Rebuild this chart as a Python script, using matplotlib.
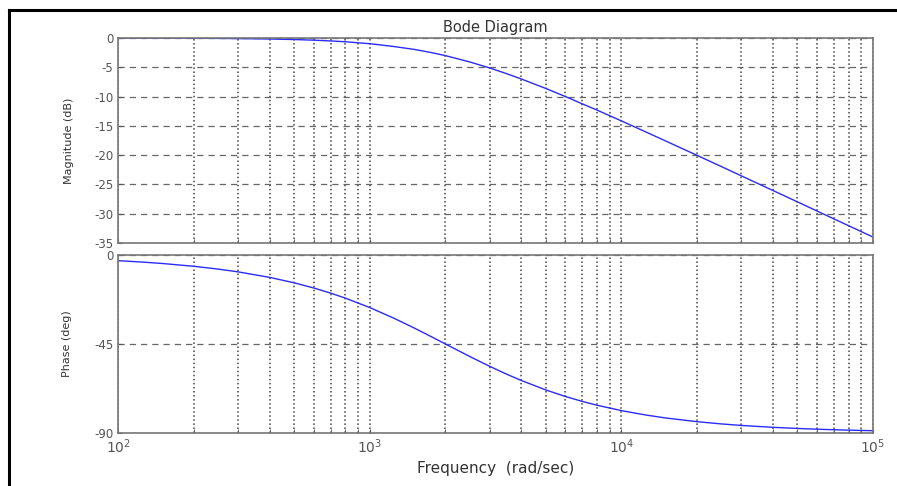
import numpy as np
import matplotlib.pyplot as plt
from matplotlib.lines import Line2D

# values
freq = [100, 125, 150, 200, 250, 300, 400, 500, 600, 700, 800, 1000, 1250,
        1500, 1750, 2000, 2500, 3000, 3500, 4000, 5000, 6000, 7000, 8000,
        10000, 12500, 15000, 20000, 25000, 30000, 40000, 50000, 60000, 70000,
        80000, 100000]
mag_db = [-0.01, -0.02, -0.02, -0.04, -0.07, -0.1, -0.17, -0.26, -0.37, -0.5,
          -0.64, -0.97, -1.46, -1.94, -2.47, -3.01, -4.09, -5.12, -6.09, -6.99,
          -8.6, -10.0, -11.25, -12.3, -14.15, -16.03, -17.58, -20.04, -21.96,
          -23.54, -26.03, -27.96, -29.55, -30.89, -32.05, -33.98]
phase_deg = [-2.86, -3.58, -4.29, -5.71, -7.13, -8.53, -11.31, -14.04, -16.7,
             -19.29, -21.8, -26.57, -32.01, -36.87, -41.19, -45.0, -51.34,
             -56.31, -60.26, -63.43, -68.2, -71.57, -74.05, -75.96, -78.69,
             -80.91, -82.41, -84.29, -85.43, -86.19, -87.14, -87.71, -88.09,
             -88.36, -88.57, -88.85]

mag_ticks = [0, -5, -10, -15, -20, -25, -30, -35]
phase_ticks = [0, -45, -90]

txt_col = '#555555'
grid_col = '#444444'
line_col = '#2b2bff'

fig = plt.figure(figsize=(8.97, 4.86), dpi=100)
ax1 = fig.add_axes([0.1316, 0.5, 0.8416, 0.4218])
ax2 = fig.add_axes([0.1316, 0.1091, 0.8416, 0.3662])

for ax in (ax1, ax2):
    ax.set_xscale('log')
    ax.set_xlim(1e2, 1e5)
    for s in ax.spines.values():
        s.set_color('#777777')
        s.set_linewidth(1.2)
    ax.tick_params(axis='both', which='both', direction='in', colors=txt_col,
                   labelsize=10, length=3)
    ax.tick_params(axis='y', labelsize=8.5)
    ax.grid(True, which='both', axis='x', linestyle=':', color=grid_col, linewidth=1.1)
    ax.grid(True, which='major', axis='y', linestyle='--', color='#666666', linewidth=0.9,
            dashes=(5, 4))

ax1.plot(freq, mag_db, color=line_col, linewidth=1.0)
ax1.set_ylim(-35, 0)
ax1.set_yticks(mag_ticks)
ax1.set_yticklabels([str(t) for t in mag_ticks])
ax1.tick_params(axis='x', which='both', labelbottom=False)
ax1.set_ylabel('Magnitude (dB)', fontsize=8, color='#333333', labelpad=14)
ax1.set_title('Bode Diagram', fontsize=10.5, color='#333333', pad=4)

ax2.plot(freq, phase_deg, color=line_col, linewidth=1.0)
ax2.set_ylim(-90, 0)
ax2.set_yticks(phase_ticks)
ax2.set_yticklabels([str(t) for t in phase_ticks])
ax2.set_ylabel('Phase (deg)', fontsize=8, color='#333333', labelpad=16)
ax2.set_xlabel('Frequency  (rad/sec)', fontsize=11, color='#333333', labelpad=3)

# black frame lines at top and left of the picture
fig.add_artist(Line2D([0.0095, 1.0], [0.979, 0.979], color='black', linewidth=2.2,
                      transform=fig.transFigure))
fig.add_artist(Line2D([0.0095, 0.0095], [0.0, 0.979], color='black', linewidth=2.2,
                      transform=fig.transFigure))

fig.savefig('out.png', dpi=100)
